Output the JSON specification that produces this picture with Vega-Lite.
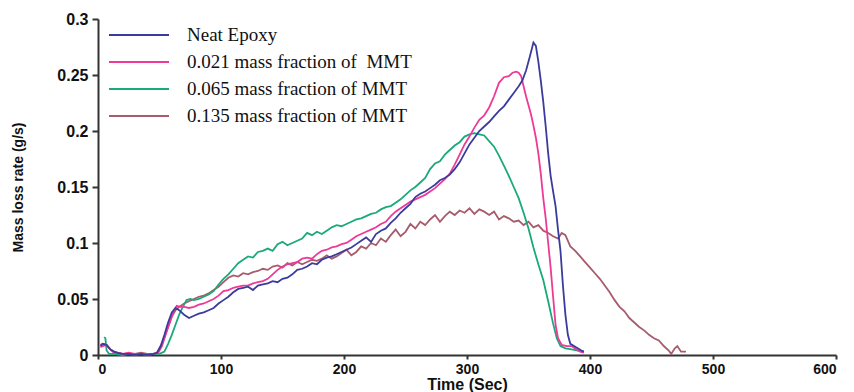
{
"$schema": "https://vega.github.io/schema/vega-lite/v6.json",
"width": 738, "height": 336,
"autosize": {"type": "none"},
"padding": {"left": 98, "top": 19, "right": 18, "bottom": 37},
"background": "white",
"config": {"view": {"stroke": null}},
"datasets": {
"blue": [[2,0.008],[4,0.010],[7,0.009],[10,0.005],[13,0.003],[16,0.002],[20,0.001],[25,0.001],[30,0.000],[35,0.001],[40,0.000],[45,0.001],[48,0.002],[51,0.008],[54,0.018],[57,0.029],[60,0.038],[63,0.042],[66,0.040],[70,0.036],[74,0.033],[78,0.035],[82,0.037],[86,0.038],[90,0.040],[94,0.042],[98,0.046],[102,0.049],[106,0.052],[110,0.056],[114,0.059],[118,0.060],[122,0.061],[126,0.058],[130,0.062],[134,0.063],[138,0.064],[142,0.066],[146,0.065],[150,0.068],[154,0.069],[158,0.072],[162,0.076],[166,0.077],[170,0.079],[174,0.082],[178,0.081],[182,0.085],[186,0.087],[190,0.088],[194,0.090],[198,0.092],[202,0.094],[206,0.096],[210,0.099],[214,0.102],[218,0.105],[222,0.101],[226,0.108],[230,0.111],[234,0.113],[238,0.118],[242,0.122],[246,0.127],[250,0.131],[254,0.135],[258,0.141],[262,0.144],[266,0.146],[270,0.149],[274,0.152],[278,0.156],[282,0.158],[286,0.161],[290,0.166],[294,0.172],[298,0.180],[302,0.188],[306,0.194],[310,0.200],[314,0.204],[318,0.208],[322,0.213],[326,0.218],[330,0.222],[334,0.228],[338,0.234],[342,0.240],[345,0.245],[348,0.254],[351,0.266],[354,0.279],[356,0.276],[358,0.262],[360,0.245],[362,0.226],[364,0.204],[366,0.180],[368,0.160],[370,0.146],[372,0.133],[374,0.112],[376,0.093],[378,0.062],[380,0.036],[382,0.018],[384,0.010],[387,0.008],[390,0.006],[393,0.004],[395,0.003]],
"pink": [[2,0.007],[4,0.008],[7,0.009],[10,0.005],[13,0.002],[16,0.002],[20,0.001],[25,0.002],[30,0.001],[35,0.001],[40,0.001],[45,0.001],[49,0.002],[52,0.008],[55,0.018],[58,0.028],[61,0.038],[64,0.044],[67,0.043],[70,0.043],[74,0.042],[78,0.043],[82,0.045],[86,0.046],[90,0.048],[94,0.050],[98,0.053],[102,0.057],[106,0.058],[110,0.060],[114,0.061],[118,0.062],[122,0.062],[126,0.064],[130,0.065],[134,0.066],[138,0.068],[142,0.072],[146,0.076],[150,0.079],[154,0.081],[158,0.082],[162,0.083],[166,0.086],[170,0.087],[174,0.086],[178,0.090],[182,0.093],[186,0.094],[190,0.096],[194,0.097],[198,0.099],[202,0.100],[206,0.103],[210,0.106],[214,0.108],[218,0.110],[222,0.112],[226,0.114],[230,0.117],[234,0.119],[238,0.124],[242,0.128],[246,0.131],[250,0.134],[254,0.137],[258,0.139],[262,0.141],[266,0.143],[270,0.146],[274,0.149],[278,0.153],[282,0.157],[286,0.162],[290,0.170],[294,0.179],[298,0.188],[302,0.195],[306,0.203],[310,0.210],[314,0.214],[318,0.221],[322,0.231],[326,0.243],[330,0.248],[334,0.249],[337,0.252],[340,0.253],[342,0.252],[344,0.249],[346,0.240],[348,0.231],[350,0.223],[352,0.215],[354,0.205],[356,0.194],[358,0.180],[360,0.162],[362,0.140],[364,0.122],[366,0.100],[368,0.078],[370,0.052],[372,0.027],[374,0.015],[377,0.009],[381,0.008],[385,0.008],[389,0.005],[392,0.003],[395,0.002]],
"green": [[5,0.016],[6,0.015],[7,0.004],[9,0.001],[13,0.001],[20,0.000],[25,0.001],[30,0.000],[35,0.001],[40,0.000],[45,0.001],[50,0.001],[54,0.003],[57,0.010],[60,0.018],[63,0.027],[66,0.036],[69,0.043],[72,0.049],[75,0.050],[78,0.049],[82,0.050],[86,0.052],[90,0.054],[94,0.057],[98,0.063],[102,0.068],[106,0.072],[110,0.077],[114,0.082],[118,0.085],[122,0.088],[126,0.087],[130,0.092],[134,0.093],[138,0.095],[142,0.093],[146,0.099],[150,0.101],[154,0.098],[158,0.100],[162,0.102],[166,0.104],[170,0.109],[174,0.107],[178,0.110],[182,0.108],[186,0.111],[190,0.114],[194,0.116],[198,0.115],[202,0.117],[206,0.119],[210,0.121],[214,0.122],[218,0.124],[222,0.126],[226,0.127],[230,0.130],[234,0.132],[238,0.133],[242,0.136],[246,0.139],[250,0.143],[254,0.147],[258,0.150],[262,0.154],[266,0.158],[270,0.166],[274,0.171],[278,0.173],[282,0.179],[286,0.183],[290,0.187],[294,0.190],[298,0.195],[302,0.197],[306,0.198],[310,0.197],[314,0.196],[318,0.191],[322,0.186],[326,0.178],[330,0.169],[334,0.160],[338,0.150],[342,0.140],[346,0.127],[350,0.113],[354,0.096],[358,0.081],[362,0.067],[366,0.048],[370,0.028],[373,0.015],[376,0.008],[380,0.006],[385,0.005],[390,0.004],[395,0.003]],
"brown": [[2,0.009],[4,0.010],[7,0.009],[10,0.005],[13,0.003],[16,0.002],[20,0.001],[25,0.001],[30,0.001],[35,0.002],[40,0.001],[45,0.001],[48,0.002],[51,0.008],[54,0.016],[57,0.025],[60,0.034],[63,0.040],[66,0.043],[70,0.046],[74,0.048],[78,0.050],[82,0.052],[86,0.053],[90,0.055],[94,0.058],[98,0.061],[102,0.065],[106,0.069],[110,0.071],[114,0.070],[118,0.073],[122,0.072],[126,0.074],[130,0.075],[134,0.077],[138,0.076],[142,0.079],[146,0.080],[150,0.078],[154,0.082],[158,0.080],[162,0.083],[166,0.081],[170,0.083],[174,0.085],[178,0.084],[182,0.086],[186,0.089],[190,0.086],[194,0.088],[198,0.091],[202,0.094],[206,0.089],[210,0.092],[214,0.097],[218,0.095],[222,0.100],[226,0.098],[230,0.104],[234,0.101],[238,0.107],[242,0.112],[246,0.106],[250,0.110],[254,0.117],[258,0.113],[262,0.119],[266,0.116],[270,0.121],[274,0.125],[278,0.119],[282,0.124],[286,0.128],[290,0.125],[294,0.129],[298,0.127],[302,0.131],[306,0.126],[310,0.130],[314,0.128],[318,0.125],[322,0.128],[326,0.121],[330,0.124],[334,0.122],[338,0.119],[342,0.120],[346,0.116],[350,0.119],[354,0.114],[358,0.116],[362,0.111],[366,0.109],[370,0.106],[374,0.104],[377,0.109],[380,0.107],[384,0.097],[388,0.093],[392,0.088],[396,0.083],[400,0.078],[404,0.073],[408,0.068],[412,0.062],[416,0.056],[420,0.049],[424,0.043],[428,0.039],[432,0.033],[436,0.029],[440,0.025],[444,0.022],[448,0.018],[452,0.015],[456,0.013],[460,0.008],[464,0.004],[466,0.001],[469,0.006],[471,0.008],[474,0.003],[478,0.003]]
},
"layer": [
{"data": {"name": "brown"}, "transform": [{"calculate": "datum[0]", "as": "t"}, {"calculate": "datum[1]", "as": "v"}, {"calculate": "'D'", "as": "s"}], "mark": {"type": "line", "strokeWidth": 1.8}, "encoding": {}},
{"data": {"name": "green"}, "transform": [{"calculate": "datum[0]", "as": "t"}, {"calculate": "datum[1]", "as": "v"}, {"calculate": "'C'", "as": "s"}], "mark": {"type": "line", "strokeWidth": 1.8}, "encoding": {}},
{"data": {"name": "pink"}, "transform": [{"calculate": "datum[0]", "as": "t"}, {"calculate": "datum[1]", "as": "v"}, {"calculate": "'B'", "as": "s"}], "mark": {"type": "line", "strokeWidth": 1.8}, "encoding": {}},
{"data": {"name": "blue"}, "transform": [{"calculate": "datum[0]", "as": "t"}, {"calculate": "datum[1]", "as": "v"}, {"calculate": "'A'", "as": "s"}], "mark": {"type": "line", "strokeWidth": 1.8}, "encoding": {}}
],
"encoding": {
"x": {"field": "t", "type": "quantitative", "scale": {"domain": [0, 600], "nice": false}, "axis": {"values": [0,100,200,300,400,500,600], "title": "Time (Sec)", "grid": false, "domainColor": "#333", "domainWidth": 2, "tickColor": "#333", "tickWidth": 2, "tickSize": 4, "labelFont": "Liberation Sans", "labelFontWeight": "bold", "labelFontSize": 14, "labelColor": "#111", "labelPadding": 3, "titleFont": "Liberation Sans", "titleFontWeight": "bold", "titleFontSize": 16, "titleColor": "#111", "titlePadding": 0}},
"y": {"field": "v", "type": "quantitative", "scale": {"domain": [0, 0.3], "nice": false}, "axis": {"values": [0,0.05,0.1,0.15,0.2,0.25,0.3], "format": "~g", "title": "Mass loss rate (g/s)", "grid": false, "domainColor": "#333", "domainWidth": 2, "tickColor": "#333", "tickWidth": 2, "tickSize": 6, "labelFont": "Liberation Sans", "labelFontWeight": "bold", "labelFontSize": 16, "labelColor": "#111", "labelPadding": 4, "titleFont": "Liberation Sans", "titleFontWeight": "bold", "titleFontSize": 14, "titleColor": "#111", "titlePadding": 31}},
"color": {"field": "s", "type": "nominal", "scale": {"domain": ["A","B","C","D"], "range": ["#3b3b9d","#ee3a96","#1aa97a","#a65c6c"]}, "legend": {"title": null, "orient": "none", "legendX": 10, "legendY": 6, "symbolType": "stroke", "symbolSize": 3600, "symbolStrokeWidth": 2, "clipHeight": 20, "rowPadding": 7, "labelOffset": 17, "labelLimit": 0, "labelFont": "Liberation Serif", "labelFontSize": 19, "labelColor": "#111", "padding": 0, "labelExpr": "datum.value == 'A' ? 'Neat Epoxy' : datum.value == 'B' ? '0.021 mass fraction of\u00a0 MMT' : datum.value == 'C' ? '0.065 mass fraction of MMT' : '0.135 mass fraction of MMT'"}},
"detail": {"field": "s", "type": "nominal"}
}
}
